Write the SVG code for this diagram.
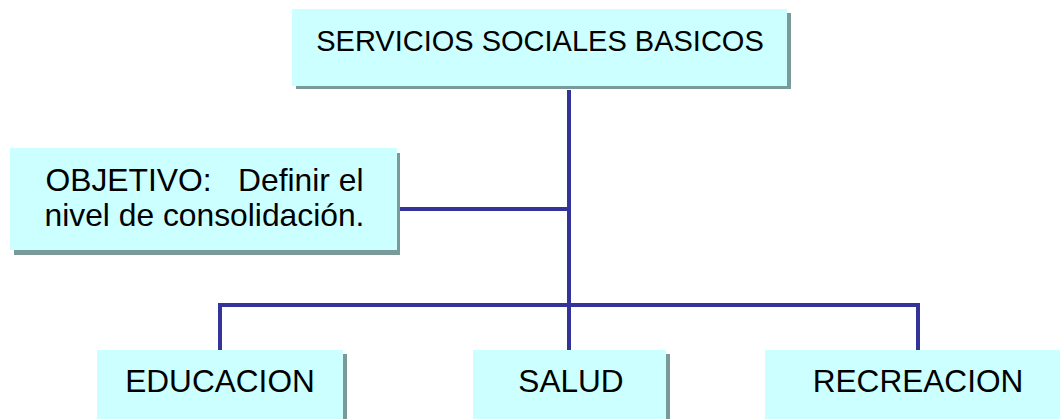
<svg xmlns="http://www.w3.org/2000/svg" width="1060" height="419" viewBox="0 0 1060 419">
<style>
.box{fill:#CCFFFF}
.sh{fill:#7A9A9A}
.t{font-family:"Liberation Sans",Arial,sans-serif;fill:#000;text-anchor:middle}
.c{stroke:#333399;stroke-width:4;fill:none}
</style>
<rect width="1060" height="419" fill="#fff"/>
<g id="connectors">
<line class="c" x1="569" y1="90" x2="569" y2="350"/>
<line class="c" x1="400" y1="209" x2="569" y2="209"/>
<polyline class="c" points="220,350 220,305 918,305 918,350"/>
</g>
<g id="servicios">
<rect class="sh" x="296" y="13" width="495" height="76"/>
<rect class="box" x="292" y="9" width="495" height="77"/>
<text class="t" x="540" y="51" font-size="29">SERVICIOS SOCIALES BASICOS</text>
</g>
<g id="objetivo">
<rect class="sh" x="14" y="153" width="386" height="102"/>
<rect class="box" x="10" y="148" width="387" height="102"/>
<text class="t" x="204.5" y="191" font-size="31.8" xml:space="preserve">OBJETIVO:   Definir el</text>
<text class="t" x="204.5" y="226" font-size="31.8">nivel de consolidación.</text>
</g>
<g id="educacion">
<rect class="sh" x="101" y="354" width="246" height="80"/>
<rect class="box" x="97" y="350" width="246" height="80"/>
<text class="t" x="220" y="392" font-size="31.6">EDUCACION</text>
</g>
<g id="salud">
<rect class="sh" x="477" y="354" width="193" height="80"/>
<rect class="box" x="473" y="350" width="193" height="80"/>
<text class="t" x="571" y="392" font-size="31.6">SALUD</text>
</g>
<g id="recreacion">
<rect class="sh" x="769" y="354" width="310" height="80"/>
<rect class="box" x="765" y="350" width="310" height="80"/>
<text class="t" x="918" y="392" font-size="31.6">RECREACION</text>
</g>
</svg>
